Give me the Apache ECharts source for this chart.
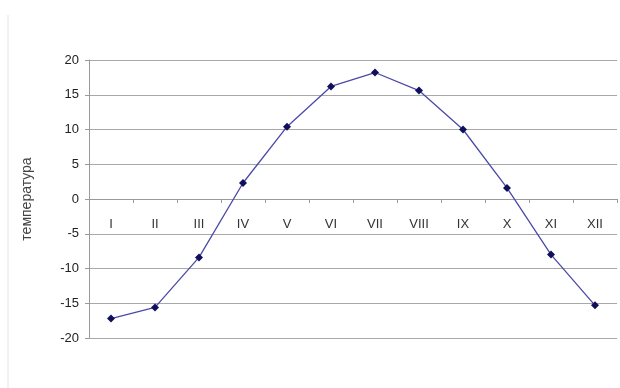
<!DOCTYPE html>
<html><head><meta charset="utf-8">
<script src="https://cdn.jsdelivr.net/npm/echarts@6/dist/echarts.min.js"></script>
<style>html,body{margin:0;padding:0;background:#fff}#c{width:620px;height:388px}</style>
</head><body><div id="c"></div>
<script>
const months = ['I','II','III','IV','V','VI','VII','VIII','IX','X','XI','XII'];
const temps = [-17.2, -15.6, -8.4, 2.3, 10.4, 16.2, 18.2, 15.6, 10.0, 1.6, -8.0, -15.3];
const yTicks = {min: -20, max: 20, step: 5};
const yName = 'температура';

const chart = echarts.init(document.getElementById('c'), null, {renderer: 'canvas'});
chart.setOption({
  animation: false,
  backgroundColor: '#fff',
  grid: {left: 89, right: 3, top: 60, bottom: 50, containLabel: false},
  graphic: [{type: 'line', shape: {x1: 8, y1: 15, x2: 8, y2: 388}, style: {stroke: '#e4e4e4', lineWidth: 1}}],
  xAxis: {
    type: 'category', data: months, boundaryGap: true,
    axisLine: {onZero: true, lineStyle: {color: '#9a9a9a', width: 1}},
    axisTick: {show: true, length: 4, lineStyle: {color: '#9a9a9a'}},
    axisLabel: {margin: -120, color: '#333', fontSize: 13, fontFamily: 'Liberation Sans'}
  },
  yAxis: {
    type: 'value', min: yTicks.min, max: yTicks.max, interval: yTicks.step,
    name: yName, nameLocation: 'middle', nameGap: 55, nameRotate: 90,
    nameTextStyle: {color: '#444', fontSize: 14, fontFamily: 'Liberation Sans'},
    axisLine: {show: true, lineStyle: {color: '#9a9a9a'}},
    axisTick: {show: true, length: 4, lineStyle: {color: '#9a9a9a'}},
    axisLabel: {margin: 10, color: '#222', fontSize: 13, fontFamily: 'Liberation Sans'},
    splitLine: {show: true, lineStyle: {color: '#a8a8a8', width: 1}}
  },
  series: [{
    type: 'line', data: temps,
    symbol: 'diamond', symbolSize: 8,
    lineStyle: {color: '#4a4aa8', width: 1.3},
    itemStyle: {color: '#10105a'}
  }]
});
</script></body></html>
